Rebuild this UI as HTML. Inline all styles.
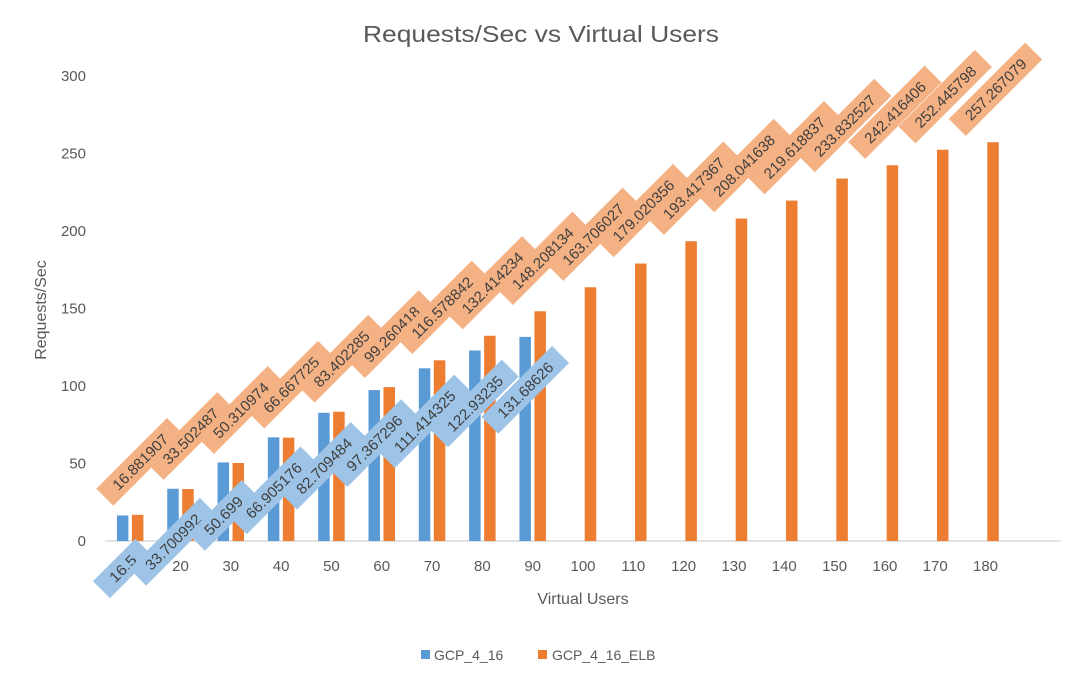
<!DOCTYPE html>
<html><head><meta charset="utf-8"><style>
body{margin:0;background:#fff;}
svg{display:block;font-family:"Liberation Sans",sans-serif;}
</style></head><body>
<svg id="chart" width="1082" height="684" viewBox="0 0 1082 684">
<text x="541" y="42" text-anchor="middle" font-size="23" fill="#595959" textLength="356" lengthAdjust="spacingAndGlyphs">Requests/Sec vs Virtual Users</text>
<text transform="translate(46,310) rotate(-90)" text-anchor="middle" font-size="16" fill="#595959">Requests/Sec</text>
<text x="583" y="604" text-anchor="middle" font-size="16" fill="#595959">Virtual Users</text>
<g id="yticks"></g><g id="xticks"></g>
<line x1="105" y1="541" x2="1061" y2="541" stroke="#d9d9d9" stroke-width="1.5"/>
<g id="bars"></g><g id="labels"></g>
<g>
<rect x="421" y="650" width="9" height="9" fill="#5b9bd5"/>
<text x="434" y="660" font-size="14" fill="#595959">GCP_4_16</text>
<rect x="538" y="650" width="9" height="9" fill="#ed7d31"/>
<text x="552" y="660" font-size="14" fill="#595959">GCP_4_16_ELB</text>
</g>
</svg>
<script>
const categories=["10","20","30","40","50","60","70","80","90","100","110","120","130","140","150","160","170","180",""];
const gcpValues=[16.5,33.700992,50.699,66.905176,82.709484,97.367296,111.414325,122.93235,131.68626];
const gcpLabels=["16.5","33.700992","50.699","66.905176","82.709484","97.367296","111.414325","122.93235","131.68626"];
const elbValues=[16.881907,33.502487,50.310974,66.667725,83.402285,99.260418,116.578842,132.414234,148.208134,163.706027,179.020356,193.417367,208.041638,219.618837,233.832527,242.416406,252.445798,257.267079];
const elbLabels=["16.881907","33.502487","50.310974","66.667725","83.402285","99.260418","116.578842","132.414234","148.208134","163.706027","179.020356","193.417367","208.041638","219.618837","233.832527","242.416406","252.445798","257.267079"];
const yTicks=[0,50,100,150,200,250,300];

const NS="http://www.w3.org/2000/svg";
const x0=105,x1=1061,y0=541,yTop=76,yMax=300;
const band=(x1-x0)/categories.length;
function xC(i){return x0+band*(i+0.5);}
function yS(v){return y0-(v/yMax)*(y0-yTop);}
function mk(tag,attrs,parent){const e=document.createElementNS(NS,tag);for(const k in attrs)e.setAttribute(k,attrs[k]);parent.appendChild(e);return e;}

const yt=document.getElementById('yticks');
yTicks.forEach(v=>{const t=mk('text',{x:86,y:yS(v)+5,'text-anchor':'end','font-size':15,fill:'#595959'},yt);


t.textContent=v;});
const xt=document.getElementById('xticks');
categories.forEach((c,i)=>{const t=mk('text',{x:xC(i),y:571,'text-anchor':'middle','font-size':15,fill:'#595959'},xt);


t.textContent=c;});

const bars=document.getElementById('bars');
const bw=11.5;
gcpValues.forEach((v,i)=>{const cx=xC(i)-7.5;
const r=mk('rect',{x:cx-bw/2,y:yS(v),width:bw,height:y0-yS(v),fill:'#5b9bd5'},bars);

});
elbValues.forEach((v,i)=>{const cx=xC(i)+7.5;
const r=mk('rect',{x:cx-bw/2,y:yS(v),width:bw,height:y0-yS(v),fill:'#ed7d31'},bars);

});

const lg=document.getElementById('labels');
function label(cx,cy,txt,fill,name){
 const g=mk('g',{transform:`translate(${cx},${cy}) rotate(-45)`},lg);
 
 
 const tl=txt.length*8;
 const w=Math.max(tl+28,60);
 mk('rect',{x:-w/2,y:-12,width:w,height:24,fill:fill},g);
 const t=mk('text',{x:0,y:5.5,'text-anchor':'middle','font-size':15,fill:'#404040',textLength:tl,lengthAdjust:'spacingAndGlyphs'},g);
 t.textContent=txt;
}
gcpValues.forEach((v,i)=>label(xC(i)-7.5,yS(v)+53,gcpLabels[i],'#9dc3e6','data-label-gcp-4-16'));
elbValues.forEach((v,i)=>label(xC(i)+10,yS(v)-53,elbLabels[i],'#f4b183','data-label-gcp-4-16-elb'));
</script>
</body></html>
